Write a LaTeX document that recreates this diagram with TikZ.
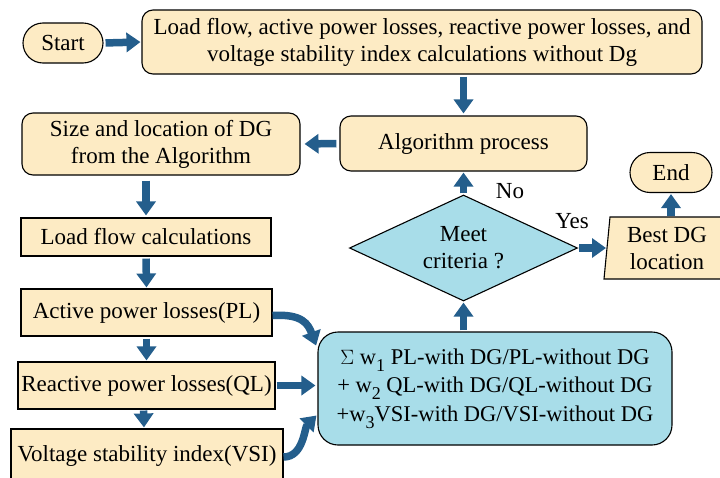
\documentclass[tikz,border=0pt]{standalone}
\usepackage{fontspec}
\setmainfont{Liberation Serif}
\usetikzlibrary{shapes.geometric,arrows.meta,calc}
\definecolor{boxfill}{RGB}{253,235,196}
\definecolor{bluefill}{RGB}{168,221,233}
\definecolor{flow}{RGB}{36,94,140}
\tikzset{
  base/.style={draw=black, line width=1.1pt, align=center, inner sep=0pt,
    font=\fontsize{23}{27}\selectfont},
  proc/.style={base, fill=boxfill, rounded corners=11pt},
  plain/.style={base, fill=boxfill},
  term/.style={base, fill=boxfill, rounded corners=20pt},
  calcbox/.style={base, fill=bluefill, rounded corners=20pt,
    font=\fontsize{22.5}{28.5}\selectfont},
  decide/.style={base, fill=bluefill, diamond, aspect=2.15},
  lbl/.style={font=\fontsize{23}{27}\selectfont, inner sep=0pt},
  flowarrow/.style={draw=flow, line width=7.5pt,
    -{Triangle[length=14pt,width=19pt]}},
}
\newcommand{\lowsub}[1]{\raisebox{-0.7ex}{\fontsize{18}{18}\selectfont#1}}
\begin{document}
\begin{tikzpicture}[x=1pt,y=-1pt]
  \useasboundingbox (0,0) rectangle (720,477);
  \clip (0,0) rectangle (720,477);

  % nodes
  \node[term, minimum width=80, minimum height=40] (start) at (63,43) {Start};
  \node[proc, minimum width=560, minimum height=64] (init) at (422,42)
    {Load flow, active power losses, reactive power losses, and\\
     voltage stability index calculations without Dg};
  \node[proc, minimum width=247, minimum height=55] (alg) at (463.5,143.5)
    {Algorithm process};
  \node[proc, minimum width=278, minimum height=62] (size) at (161,144)
    {Size and location of DG\\from the Algorithm};
  \node[plain, minimum width=250, minimum height=38] (lf) at (146,237)
    {Load flow calculations};
  \node[plain, minimum width=251, minimum height=47] (pl) at (146.5,312.5)
    {Active power losses(PL)};
  \node[plain, minimum width=257, minimum height=47] (ql) at (146.5,385.5)
    {Reactive power losses(QL)};
  \node[plain, minimum width=272, minimum height=54] (vsi) at (147,456)
    {Voltage stability index(VSI)};
  \node[calcbox, minimum width=354, minimum height=113] (sum) at (495,388.5)
    {$\Sigma$ w\lowsub{1} PL-with DG/PL-without DG\\
     + w\lowsub{2} QL-with DG/QL-without DG\\
     +w\lowsub{3}VSI-with DG/VSI-without DG};
  \node[decide, minimum width=228, minimum height=106] (dia) at (463.5,248)
    {Meet\\criteria ?};

  % input/output block on the right
  \draw[base, fill=boxfill] (610,217) -- (730,217) -- (730,279) -- (604,279) -- cycle;
  \node[lbl, align=center] (best) at (667,248) {Best DG\\location};
  \coordinate (bestin) at (607,248);
  \coordinate (besttop) at (671,217);
  \node[term, minimum width=82, minimum height=40] (end) at (671,172.5) {End};

  % labels
  \node[lbl] (no) at (510,191) {No};
  \node[lbl] (yes) at (572,221) {Yes};

  % connectors
  \draw[flowarrow, shorten <=2pt, shorten >=1pt] (start.east) -- (init.west);
  \draw[flowarrow, shorten <=2pt, shorten >=2pt] (alg.north |- init.south) -- (alg.north);
  \draw[flowarrow, shorten <=3pt, shorten >=4pt] (alg.west) -- (size.east);
  \draw[flowarrow, shorten <=5pt, shorten >=2pt] (lf.north |- size.south) -- (lf.north);
  \draw[flowarrow, shorten <=2pt, shorten >=1pt] (lf.south) -- (pl.north);
  \draw[flowarrow, shorten <=2pt, shorten >=1pt] (pl.south) -- (ql.north);
  \draw[flowarrow, shorten <=1pt, shorten >=1pt] ([xshift=-3pt]ql.south) -- ([xshift=-3pt]vsi.north);
  \draw[flowarrow, shorten >=1pt] ([yshift=-3pt]pl.east) .. controls +(30,-2) and +(-8,-22) .. ($(sum.west)+(-1,-42)$);
  \draw[flowarrow, shorten <=1pt, shorten >=2pt] (ql.east) -- (ql.east -| sum.west);
  \draw[flowarrow] ([yshift=-1pt]vsi.east) .. controls +(20,0) and +(-12,12) .. ($(sum.west)+(-1,27)$);
  \draw[flowarrow, shorten <=1pt, shorten >=1pt] (dia.south |- sum.north) -- (dia.south);
  \draw[flowarrow, shorten <=1pt, shorten >=1pt] (dia.north) -- (alg.south);
  \draw[flowarrow, shorten <=1pt, shorten >=1pt] (dia.east) -- (bestin);
  \draw[flowarrow, shorten <=1pt, shorten >=1pt] (besttop) -- (end.south);
\end{tikzpicture}
\end{document}
